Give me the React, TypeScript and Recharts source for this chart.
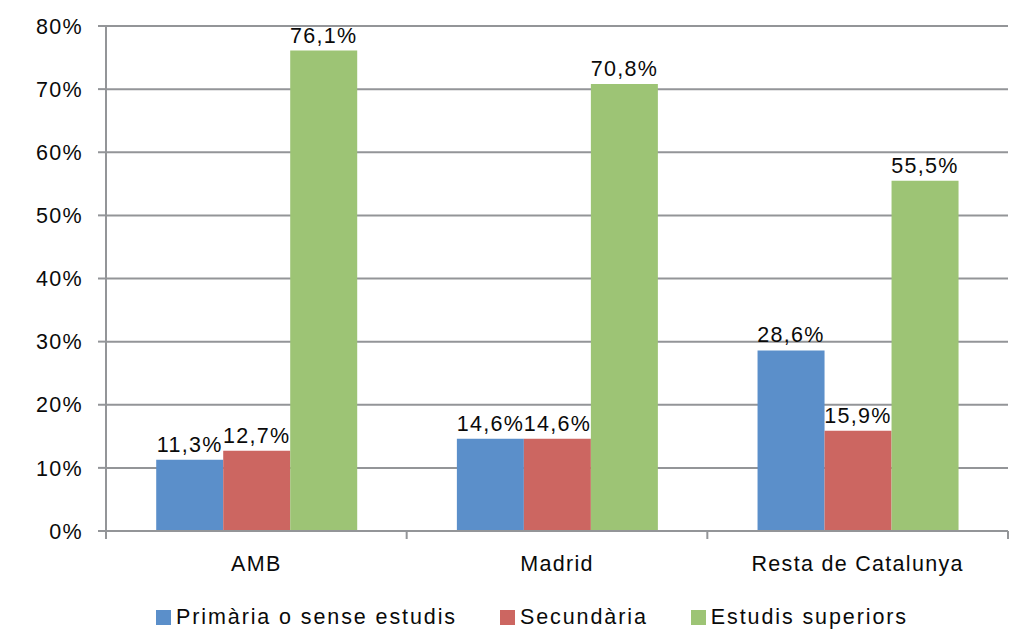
import { BarChart, Bar, XAxis, YAxis, CartesianGrid, Legend, LabelList } from "recharts";

const categories = ["AMB", "Madrid", "Resta de Catalunya"];
const primaria = [11.3, 14.6, 28.6];
const secundaria = [12.7, 14.6, 15.9];
const superiors = [76.1, 70.8, 55.5];
const yTicks = [0, 10, 20, 30, 40, 50, 60, 70, 80];

const series = [
    { key: "primaria", name: "Primària o sense estudis", color: "#5B8FCA" },
    { key: "secundaria", name: "Secundària", color: "#CC6661" },
    { key: "superiors", name: "Estudis superiors", color: "#9DC475" },
];

const data = categories.map((name, i) => ({
    name,
    primaria: primaria[i],
    secundaria: secundaria[i],
    superiors: superiors[i],
}));

const GRAY = "#939598";
const FONT = "'Liberation Sans', Arial, sans-serif";
const TEXT = "#0a0a0a";

const fmt = (v: any) => `${Number(v).toFixed(1).replace(".", ",")}%`;

function CategoryTick(props: any) {
    const { x, y, payload, index, visibleTicksCount } = props;
    const half = payload?.offset ?? 150;
    return (
        <g>
            <line x1={x - half} x2={x - half} y1={y} y2={y + 8} stroke={GRAY} strokeWidth={2} />
            {index === visibleTicksCount - 1 && (
                <line x1={x + half} x2={x + half} y1={y} y2={y + 8} stroke={GRAY} strokeWidth={2} />
            )}
            <text x={x} y={y + 40} textAnchor="middle" fill={TEXT} fontSize={21.5} fontFamily={FONT} letterSpacing={1.3}>
                {payload.value}
            </text>
        </g>
    );
}

function LegendContent() {
    return (
        <div style={{ display: "flex", justifyContent: "center", gap: 43, paddingTop: 24, paddingLeft: 56, fontFamily: FONT, fontSize: 21.5, letterSpacing: 1.9, color: TEXT, lineHeight: "24px" }}>
            {series.map((s) => (
                <div key={s.key} style={{ display: "flex", alignItems: "center" }}>
                    <span style={{ display: "inline-block", width: 15, height: 15, background: s.color, marginRight: 5 }} />
                    <span>{s.name}</span>
                </div>
            ))}
        </div>
    );
}

export default function App() {
    return (
        <div style={{ position: "absolute", left: 0, top: 0, background: "#fff" }}>
            <BarChart
                width={1026}
                height={632}
                data={data}
                margin={{ top: 26, right: 18, left: 0, bottom: 10 }}
                barCategoryGap="16.7%"
                barGap={0}
            >
                <CartesianGrid vertical={false} stroke={GRAY} strokeWidth={2} />
                <XAxis
                    dataKey="name"
                    height={50}
                    stroke={GRAY}
                    strokeWidth={2}
                    tickLine={false}
                    tickSize={0}
                    tickMargin={0}
                    tick={<CategoryTick />}
                    interval={0}
                />
                <YAxis
                    width={106}
                    domain={[0, 80]}
                    ticks={yTicks}
                    tickFormatter={(v) => `${v}%`}
                    stroke={GRAY}
                    strokeWidth={2}
                    tickSize={8}
                    tickMargin={15}
                    tick={{ fill: TEXT, fontSize: 21.5, fontFamily: FONT, letterSpacing: 1.3 }}
                />
                <Legend verticalAlign="bottom" height={41} content={<LegendContent />} />
                {series.map((s) => (
                    <Bar key={s.key} dataKey={s.key} name={s.name} fill={s.color} isAnimationActive={false}>
                        <LabelList
                            dataKey={s.key}
                            position="top"
                            offset={8}
                            formatter={fmt}
                            fill={TEXT}
                            fontSize={21.5}
                            fontFamily={FONT}
                            letterSpacing={1.3}
                        />
                    </Bar>
                ))}
            </BarChart>
        </div>
    );
}
